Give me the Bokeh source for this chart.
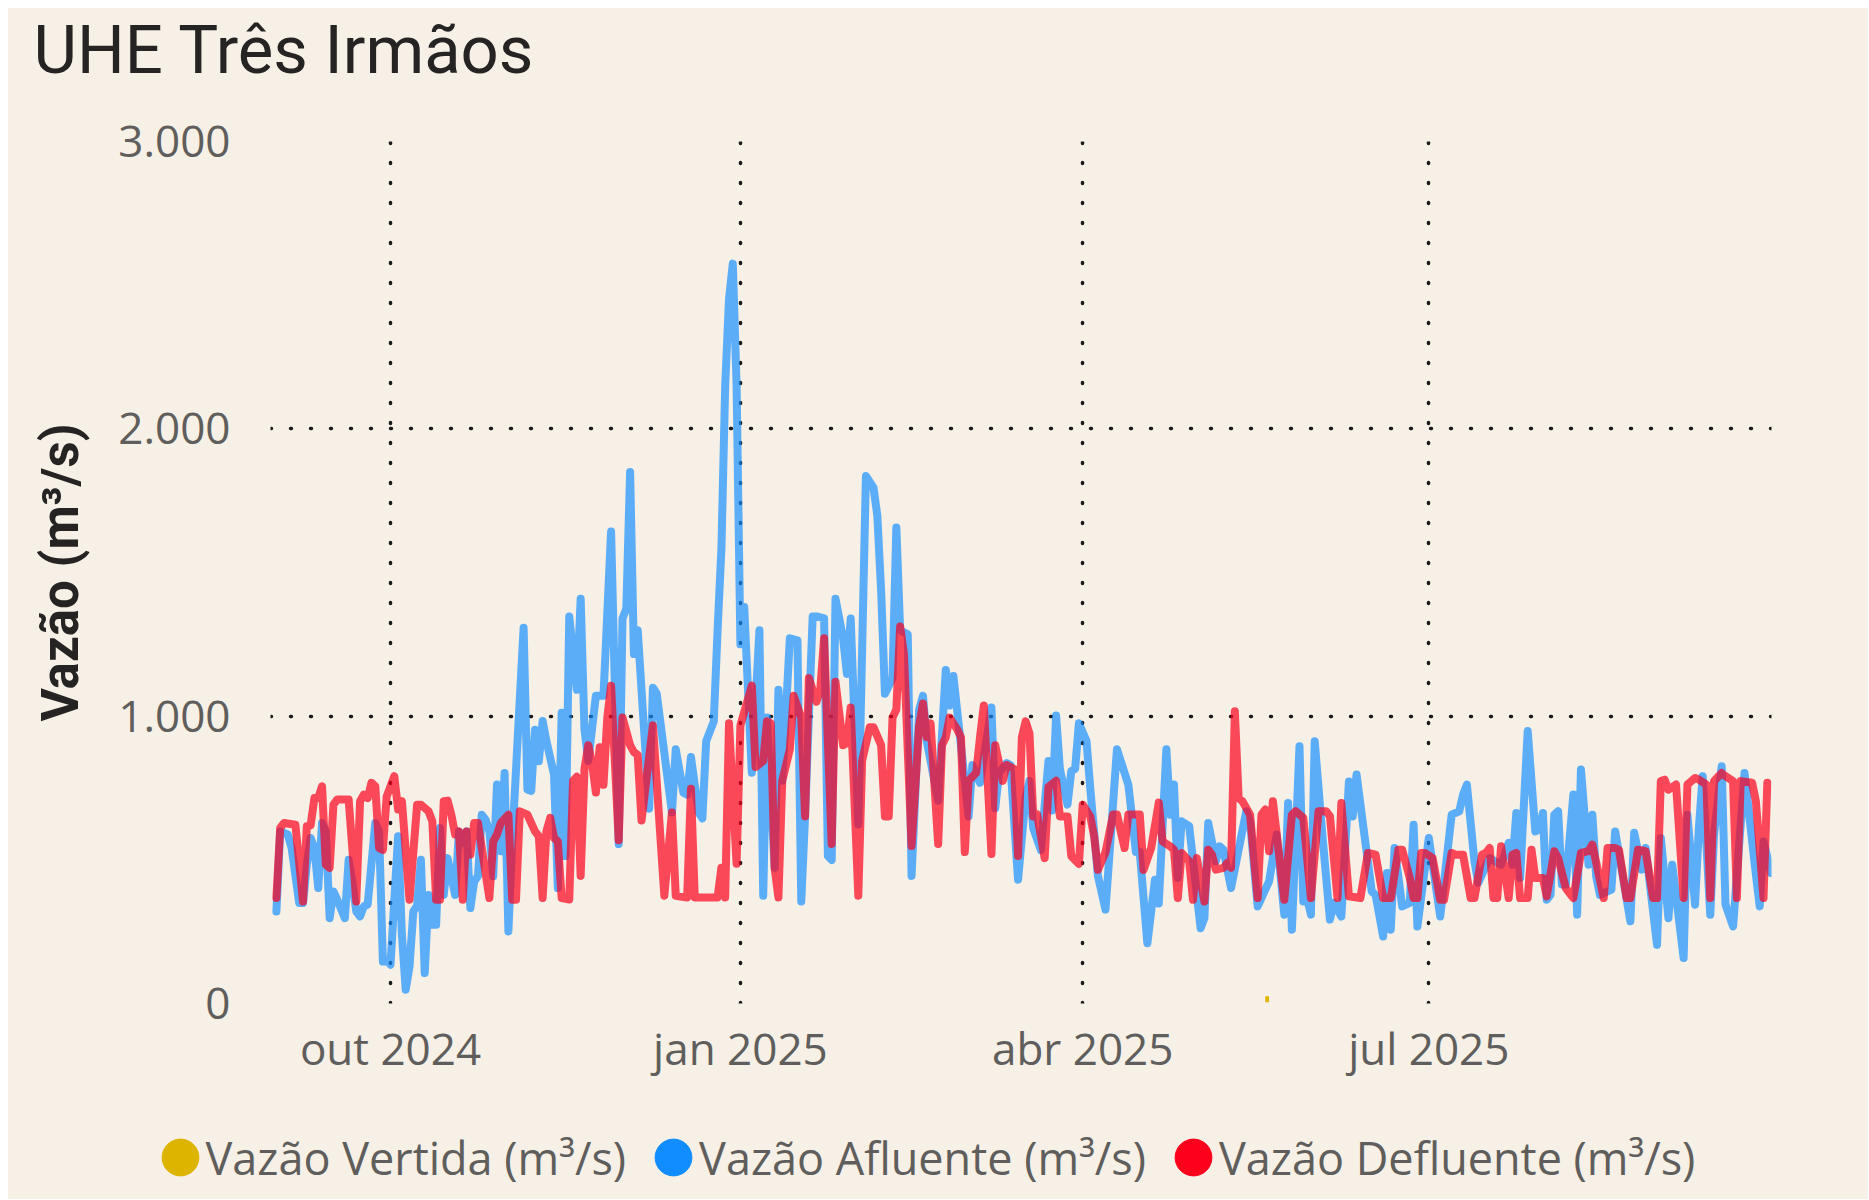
import datetime as dt
from bokeh.plotting import figure
from bokeh.models import FixedTicker, Range1d, Legend, LegendItem, Label
from bokeh.layouts import column
from bokeh.embed import file_html
from bokeh.resources import INLINE

START = dt.datetime(2024, 9, 1)
EPOCH = dt.datetime(1970, 1, 1)

# ---- data (day offset from START, value in m3/s) ----
afl_days = [0, 1, 3, 4, 6, 7, 8, 9, 10, 11, 12, 13, 14, 15, 16, 18, 19, 20, 21, 22, 23, 24, 26, 27, 28, 29, 30, 32, 33, 34,
            35, 36, 37, 38, 39, 40, 41, 42, 43, 44, 45, 47, 48, 49, 50, 51, 52, 53, 54, 55, 56, 57, 58, 59, 60, 61, 62, 65,
            66, 67, 68, 69, 70, 71, 73, 74, 75, 76, 77, 79, 80, 81, 82, 84, 86, 88, 90, 91, 92, 93, 94, 95, 98, 99, 100,
            104, 105, 107, 108, 109, 111, 112, 113, 115, 116, 117, 118, 119, 120, 121, 122, 123, 125, 127, 128, 129, 131,
            132, 133, 135, 137, 138, 139, 141, 142, 144, 145, 146, 147, 149, 150, 151, 153, 155, 157, 158, 159, 160, 162,
            163, 164, 166, 167, 169, 170, 171, 174, 176, 177, 178, 182, 183, 185, 188, 189, 190, 192, 193, 195, 197, 198,
            199, 201, 203, 204, 205, 206, 208, 209, 210, 211, 213, 214, 216, 218, 221, 224, 226, 227, 229, 231, 232, 234,
            235, 236, 237, 238, 240, 243, 244, 245, 247, 248, 249, 251, 255, 256, 258, 261, 263, 265, 266, 267, 269, 270,
            271, 272, 273, 275, 277, 278, 280, 282, 283, 284, 288, 289, 291, 292, 293, 294, 296, 298, 299, 300, 303, 306,
            309, 311, 312, 313, 315, 316, 318, 319, 322, 324, 325, 326, 327, 329, 331, 332, 333, 334, 335, 336, 337, 338,
            339, 341, 342, 343, 345, 346, 347, 348, 351, 352, 356, 357, 359, 360, 363, 364, 366, 367, 370, 371, 373, 374,
            375, 377, 378, 380, 381, 383, 386, 389, 390, 391, 393]
afl_vals = [320, 599, 588, 541, 350, 350, 483, 576, 541, 402, 628, 599, 297, 390, 361, 297, 500, 420, 320, 303, 338, 345, 628, 599, 146, 150, 135, 582, 239, 48,
            129, 320, 340, 500, 106, 378, 274, 274, 611, 378, 506, 378, 599, 560, 599, 332, 425, 443, 657, 640, 599, 443, 762, 530, 802, 251, 564, 1308,
            744, 740, 953, 843, 983, 913, 797, 402, 1012, 513, 1347, 1092, 1409, 955, 844, 1071, 1071, 1643, 555, 1340, 1374, 1850, 1216, 1299, 678, 1099, 1078,
            665, 885, 734, 727, 858, 665, 644, 913, 982, 1300, 1580, 2150, 2450, 2575, 2150, 1250, 1380, 803, 1299, 375, 995, 472,
            1092, 775, 1271, 1264, 355, 651, 1347, 1347, 1340, 513, 499, 1409, 1271, 1147, 1340, 623, 1836, 1795, 1698, 1436, 1078, 1133,
            1657, 1299, 1285, 444, 1023, 1071, 913, 706, 1161, 1037, 1140, 651, 830, 768, 1030, 679, 803, 837, 830, 431, 720, 775,
            610, 534, 844, 672, 1002, 816, 692, 809, 816, 975, 913, 747, 444, 327, 885, 761, 527, 527, 210, 431, 348, 885,
            657, 762, 437, 634, 617, 262, 297, 628, 495, 547, 535, 402, 669, 634, 338, 425, 588, 309, 698, 257, 895, 355,
            367, 309, 913, 588, 292, 350, 303, 773, 651, 797, 390, 378, 233, 454, 257, 541, 338, 350, 622, 268, 576, 303,
            657, 669, 727, 762, 495, 420, 480, 506, 483, 559, 483, 663, 437, 948, 599, 605, 663, 361, 378, 657, 669, 414,
            414, 727, 309, 814, 483, 657, 442, 378, 396, 599, 286, 594, 466, 541, 204, 576, 297, 483, 158, 657, 344, 611,
            791, 309, 588, 826, 344, 268, 802, 448, 338, 564, 454]

def_days = [0, 1, 2, 5, 7, 8, 9, 10, 11, 12, 13, 14, 15, 16, 19, 21, 22, 23, 24, 25, 26, 27, 28, 29, 31, 32, 33, 35, 37, 38,
            40, 41, 42, 43, 44, 45, 46, 47, 48, 49, 50, 51, 52, 53, 56, 57, 58, 59, 61, 62, 63, 64, 66, 68, 69, 70, 71, 72,
            73, 74, 75, 77, 78, 79, 80, 81, 82, 83, 84, 85, 86, 87, 88, 90, 91, 93, 94, 95, 96, 99, 102, 104, 105, 108, 109,
            110, 116, 117, 118, 119, 121, 122, 125, 126, 128, 129, 130, 131, 132, 133, 135, 136, 138, 139, 140, 142, 143,
            144, 146, 147, 149, 150, 151, 153, 154, 156, 157, 159, 160, 161, 162, 163, 164, 165, 167, 169, 170, 171, 172,
            174, 175, 176, 177, 179, 180, 181, 182, 184, 185, 186, 188, 189, 191, 192, 194, 195, 196, 197, 198, 199, 200,
            202, 203, 205, 206, 208, 209, 211, 212, 214, 215, 216, 218, 220, 221, 223, 224, 227, 228, 230, 232, 233, 235,
            236, 237, 238, 240, 241, 242, 244, 245, 246, 247, 249, 250, 251, 252, 253, 254, 256, 258, 259, 260, 261, 262,
            265, 267, 268, 270, 272, 274, 276, 277, 279, 280, 282, 285, 287, 289, 291, 293, 295, 296, 298, 299, 300, 301,
            302, 304, 306, 307, 309, 310, 312, 314, 315, 317, 318, 319, 320, 321, 322, 324, 325, 326, 327, 329, 330, 331,
            333, 334, 336, 337, 339, 341, 343, 345, 346, 349, 350, 352, 353, 355, 356, 358, 360, 362, 363, 364, 365, 366,
            368, 370, 371, 373, 374, 376, 377, 378, 380, 381, 383, 384, 385, 388, 389, 391, 392]
def_vals = [367, 611, 628, 622, 355, 617, 620, 715, 715, 756, 483, 472, 692, 710, 710, 355, 704, 727, 715, 768, 756, 541, 535, 721, 791, 675, 704, 361, 692, 692,
            669, 634, 361, 361, 704, 706, 657, 588, 599, 361, 599, 518, 628, 628, 367, 564, 588, 628, 657, 361, 361, 669, 657, 599, 582, 367, 599, 646,
            576, 564, 367, 362, 775, 789, 444, 816, 899, 837, 734, 892, 761, 995, 1106, 568, 995, 899, 875, 865, 637, 968, 375, 665, 375, 369, 747,
            369, 369, 472, 369, 975, 486, 968, 1106, 823, 844, 982, 975, 472, 369, 775, 885, 1071, 995, 651, 1133, 1050, 1092,
            1271, 555, 1120, 899, 906, 1030, 375, 844, 961, 961, 899, 651, 651, 995, 1023, 1312, 1216, 548, 968, 1044, 927, 975,
            555, 899, 927, 995, 954, 927, 527, 775, 803, 927, 1037, 520, 899, 775, 830, 816, 513, 927, 982, 940, 651, 658,
            506, 754, 775, 651, 651, 513, 486, 692, 651, 582, 465, 527, 658, 658, 541, 658, 658, 465, 541, 699, 564, 547,
            535, 367, 524, 495, 361, 506, 355, 535, 518, 466, 472, 489, 472, 1017, 715, 704, 657, 367, 657, 675, 530, 704,
            361, 657, 669, 646, 367, 669, 669, 652, 367, 698, 373, 367, 524, 518, 367, 367, 535, 535, 437, 367, 367, 524,
            524, 506, 361, 361, 524, 518, 518, 367, 367, 518, 524, 541, 367, 367, 547, 367, 518, 524, 367, 367, 535, 437,
            437, 373, 530, 506, 402, 367, 524, 530, 553, 367, 541, 541, 535, 367, 367, 535, 530, 367, 367, 774, 779, 744,
            762, 367, 762, 785, 779, 762, 367, 774, 802, 791, 774, 367, 774, 768, 704, 367, 768]

ver_days = [260, 261]
ver_vals = [15, 15]

series_names = ["Vazão Vertida (m³/s)", "Vazão Afluente (m³/s)", "Vazão Defluente (m³/s)"]
series_colors = ["#DDB400", "#118DFF", "#FC001C"]

tick_dates = ["2024-10-01", "2025-01-01", "2025-04-01", "2025-07-01"]
tick_labels = ["out 2024", "jan 2025", "abr 2025", "jul 2025"]
y_ticks = [0, 1000, 2000, 3000]
y_labels = ["0", "1.000", "2.000", "3.000"]

title_text = "UHE Três Irmãos"
y_title = "Vazão (m³/s)"


def to_dates(days):
    return [START + dt.timedelta(days=d) for d in days]


def to_ms(s):
    return (dt.datetime.strptime(s, "%Y-%m-%d") - EPOCH).total_seconds() * 1000.0


BG = "#F7F0E6"
GREY = "#605E5C"
DARK = "#252423"
W = 1860


def blank_fig(h):
    f = figure(width=W, height=h, output_backend="svg", toolbar_location=None,
               x_axis_location=None, y_axis_location=None, min_border=0, frame_align=False,
               x_range=Range1d(0, 1), y_range=Range1d(0, 1),
               background_fill_color=BG, border_fill_color=BG, outline_line_color=None)
    f.grid.visible = False
    return f


# ---- title strip ----
tf = blank_fig(93)
tf.add_layout(Label(x=25, y=52, x_units="screen", y_units="screen", text=title_text,
                    text_font="Roboto", text_font_size="67px", text_color=DARK,
                    text_align="left", text_baseline="middle"))

# ---- main chart ----
p = figure(width=W, height=997, x_axis_type="datetime", output_backend="svg", toolbar_location=None,
           x_range=Range1d(START - dt.timedelta(days=1.55), START + dt.timedelta(days=393.1)),
           y_range=Range1d(0, 3000), frame_align=False,
           min_border_left=262, min_border_right=97, min_border_top=40, min_border_bottom=95,
           background_fill_color=BG, border_fill_color=BG, outline_line_color=None)

xt = [to_ms(s) for s in tick_dates]
p.xaxis.ticker = FixedTicker(ticks=xt)
p.xgrid.ticker = FixedTicker(ticks=xt)
p.xaxis.major_label_overrides = {t: l for t, l in zip(xt, tick_labels)}
p.yaxis.ticker = FixedTicker(ticks=y_ticks)
p.ygrid.ticker = FixedTicker(ticks=y_ticks)
p.yaxis.major_label_overrides = {t: l for t, l in zip(y_ticks, y_labels)}

for ax in (p.xaxis, p.yaxis):
    ax.axis_line_color = None
    ax.major_tick_line_color = None
    ax.minor_tick_line_color = None
    ax.major_tick_out = 0
    ax.major_tick_in = 0
    ax.major_label_text_font = "Open Sans"
    ax.major_label_text_font_size = "44px"
    ax.major_label_text_color = GREY
p.xaxis.major_label_standoff = 14
p.yaxis.major_label_standoff = 40

p.yaxis.axis_label = y_title
p.yaxis.axis_label_text_font = "Roboto"
p.yaxis.axis_label_text_font_size = "51px"
p.yaxis.axis_label_text_font_style = "bold"
p.yaxis.axis_label_text_color = DARK
p.yaxis.axis_label_standoff = 25

for g in (p.xgrid, p.ygrid):
    g.grid_line_color = "#1A1A1A"
    g.grid_line_width = 3.5
    g.grid_line_dash = "1 19"
    g.grid_line_cap = "round"

p.line(to_dates(ver_days), ver_vals, line_color=series_colors[0], line_width=6)
p.line(to_dates(afl_days), afl_vals, line_color=series_colors[1], line_alpha=0.68, line_width=8,
       line_join="round", line_cap="round")
p.line(to_dates(def_days), def_vals, line_color=series_colors[2], line_alpha=0.7, line_width=8,
       line_join="round", line_cap="round")

# ---- legend strip (round swatches) ----
lf = blank_fig(101)
items = []
for name, col in zip(series_names, series_colors):
    r = lf.ellipse(x=[0], y=[float("nan")], width=37, height=37, width_units="screen",
                   height_units="screen", fill_color=col, line_color=col)
    items.append(LegendItem(label=name, renderers=[r]))
legend = Legend(items=items, orientation="horizontal", location=(148.5, 11.5),
                glyph_width=46, glyph_height=60, label_height=60, label_standoff=3, spacing=24,
                padding=0, margin=0, border_line_color=None, background_fill_alpha=0,
                label_text_font="Open Sans", label_text_font_size="45px", label_text_color=GREY)
lf.add_layout(legend)

page = column(tf, p, lf, spacing=0, margin=(8, 0, 0, 8), background=BG)
open("out.html", "w").write(file_html(page, INLINE))
